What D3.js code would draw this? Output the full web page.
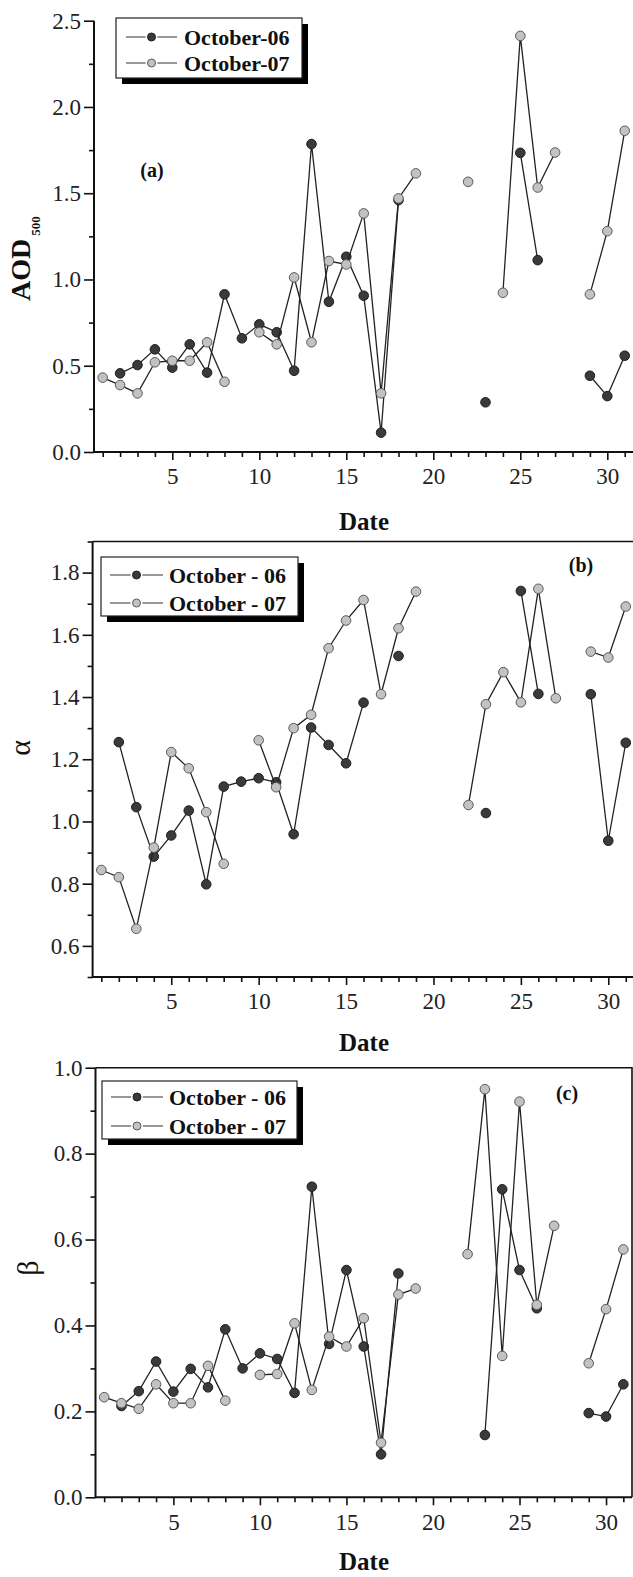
<!DOCTYPE html>
<html>
<head>
<meta charset="utf-8">
<style>
  body { margin: 0; background: #fff; }
  svg { display: block; }
  .tick text { font-family: 'Liberation Serif', 'Times New Roman', serif; }
</style>
<script src="https://cdn.jsdelivr.net/npm/d3@7"></script>
</head>
<body>
<script>

// data ////////////////////////////////////////////////////////////////////

var days = [1, 2, 3, 4, 5, 6, 7, 8, 9, 10, 11, 12, 13, 14, 15, 16, 17, 18, 19, 20,
            21, 22, 23, 24, 25, 26, 27, 28, 29, 30, 31];

var xMajor = [5, 10, 15, 20, 25, 30];

// (a) AOD500
var aod06 = [null, 0.456, 0.504, 0.595, 0.489, 0.624, 0.46, 0.914, 0.659, 0.74,
             0.694, 0.471, 1.785, 0.871, 1.132, 0.906, 0.112, 1.46, null, null,
             null, null, 0.288, null, 1.734, 1.112, null, null, 0.442, 0.324, 0.558];
var aod07 = [0.431, 0.388, 0.34, 0.52, 0.529, 0.529, 0.636, 0.407, null, 0.694,
             0.624, 1.012, 0.636, 1.107, 1.087, 1.383, 0.34, 1.47, 1.615, null,
             null, 1.566, null, 0.923, 2.412, 1.533, 1.736, null, 0.914, 1.28, 1.862];

// (b) alpha
var alpha06 = [null, 1.255, 1.046, 0.887, 0.955, 1.035, 0.798, 1.112, 1.128, 1.139,
               1.126, 0.959, 1.302, 1.246, 1.187, 1.382, null, 1.532, null, null,
               null, null, 1.027, null, 1.741, 1.41, null, null, 1.409, 0.938, 1.253];
var alpha07 = [0.844, 0.821, 0.655, 0.916, 1.223, 1.171, 1.03, 0.864, null, 1.261,
               1.11, 1.3, 1.343, 1.557, 1.646, 1.712, 1.409, 1.621, 1.739, null,
               null, 1.053, 1.377, 1.48, 1.383, 1.748, 1.396, null, 1.546, 1.527, 1.691];

// (c) beta
var beta06 = [null, 0.2125, 0.247, 0.316, 0.246, 0.299, 0.256, 0.391, 0.3, 0.335,
              0.322, 0.243, 0.723, 0.357, 0.529, 0.351, 0.1, 0.521, null, null,
              null, null, 0.145, 0.717, 0.529, 0.44, null, null, 0.196, 0.188, 0.263];
var beta07 = [0.233, 0.219, 0.206, 0.263, 0.219, 0.219, 0.306, 0.225, null, 0.285,
              0.287, 0.405, 0.25, 0.374, 0.351, 0.417, 0.127, 0.472, 0.486, null,
              null, 0.566, 0.95, 0.329, 0.921, 0.448, 0.632, null, 0.312, 0.438, 0.577];

var yTicksA = [0, 0.5, 1.0, 1.5, 2.0, 2.5];
var yMinorA = [0.25, 0.75, 1.25, 1.75, 2.25];
var yTicksB = [0.6, 0.8, 1.0, 1.2, 1.4, 1.6, 1.8];
var yMinorB = [0.5, 0.7, 0.9, 1.1, 1.3, 1.5, 1.7, 1.9];
var yTicksC = [0, 0.2, 0.4, 0.6, 0.8, 1.0];
var yMinorC = [0.1, 0.3, 0.5, 0.7, 0.9];

var legendA = ['October-06', 'October-07'];
var legendBC = ['October - 06', 'October - 07'];

// style ///////////////////////////////////////////////////////////////////

var serif = "'Liberation Serif', 'Times New Roman', serif";
var dark  = {fill: '#3a3a3a', stroke: '#1e1e1e'};
var light = {fill: '#c2c2c2', stroke: '#5a5a5a'};

var svg = d3.select('body').append('svg')
	.attr('width', 633)
	.attr('height', 1577);

var panels = [
	{s06: aod06, s07: aod07, yDomain: [0, 2.5], yTicks: yTicksA, yMinor: yMinorA,
	 xRange: [94, 633.4], yRange: [452, 20.7], frame: false,
	 legend: legendA, box: [116, 18, 186, 60], rows: [37, 63], sym: [126, 177], textX: 184,
	 tag: '(a)', tagPos: [152, 177], dateY: 530, ylabel: 'aod'},
	{s06: alpha06, s07: alpha07, yDomain: [0.5, 1.9], yTicks: yTicksB, yMinor: yMinorB,
	 xRange: [92.6, 634.5], yRange: [977, 541.5], frame: true,
	 legend: legendBC, box: [101, 557, 197, 59], rows: [575, 603], sym: [110, 163], textX: 169,
	 tag: '(b)', tagPos: [581, 572], dateY: 1051, ylabel: 'α', ylabelPos: [30, 748]},
	{s06: beta06, s07: beta07, yDomain: [0, 1.0], yTicks: yTicksC, yMinor: yMinorC,
	 xRange: [95.5, 632], yRange: [1497.3, 1067.7], frame: true,
	 legend: legendBC, box: [102, 1081, 195, 58], rows: [1097, 1126], sym: [111, 163], textX: 169,
	 tag: '(c)', tagPos: [567, 1100], dateY: 1570, ylabel: 'β', ylabelPos: [38, 1268]},
];

panels.forEach(drawPanel);

function drawPanel(p) {
	var x = d3.scaleLinear().domain([0.5, 31.5]).range(p.xRange);
	var y = d3.scaleLinear().domain(p.yDomain).range(p.yRange);
	var [x0, x1] = x.range();
	var [y0, y1] = y.range();

	var g = svg.append('g');

	// frame (top + right)
	if (p.frame) {
		g.append('path')
			.attr('d', `M${x0},${y1}H${x1}V${y0}`)
			.attr('fill', 'none')
			.attr('stroke', '#111')
			.attr('stroke-width', 1.6);
	}

	// y axis
	g.append('g')
		.attr('transform', `translate(${x0},0)`)
		.call(d3.axisLeft(y).tickValues(p.yTicks).tickSize(10).tickPadding(3)
			.tickFormat(d3.format('.1f')))
		.attr('font-family', serif).attr('font-size', 23)
		.call(a => a.select('.domain').remove())
		.call(a => a.selectAll('line').attr('stroke', '#111').attr('stroke-width', 1.6))
		.call(a => a.selectAll('text').style('font-family', serif).style('font-size', '23px')
			.attr('fill', '#222'));
	g.append('g')
		.attr('transform', `translate(${x0},0)`)
		.call(d3.axisLeft(y).tickValues(p.yMinor).tickSize(5).tickFormat(''))
		.call(a => a.select('.domain').remove())
		.call(a => a.selectAll('line').attr('stroke', '#111').attr('stroke-width', 1.6));

	// x axis
	g.append('g')
		.attr('transform', `translate(0,${y0})`)
		.call(d3.axisBottom(x).tickValues(xMajor).tickSize(8).tickPadding(8))
		.attr('font-family', serif).attr('font-size', 23)
		.call(a => a.select('.domain').remove())
		.call(a => a.selectAll('line').attr('stroke', '#111').attr('stroke-width', 1.6))
		.call(a => a.selectAll('text').style('font-family', serif).style('font-size', '23px')
			.attr('fill', '#222'));
	g.append('g')
		.attr('transform', `translate(0,${y0})`)
		.call(d3.axisBottom(x).tickValues(days.filter(d => xMajor.indexOf(d) < 0))
			.tickSize(5).tickFormat(''))
		.call(a => a.select('.domain').remove())
		.call(a => a.selectAll('line').attr('stroke', '#111').attr('stroke-width', 1.6));

	g.append('path')
		.attr('d', `M${x0},${y1}V${y0}H${x1}`)
		.attr('fill', 'none')
		.attr('stroke', '#111')
		.attr('stroke-width', 2);

	// series
	[[p.s06, dark], [p.s07, light]].forEach(([s, st]) => {
		var pts = days.map((d, i) => ({day: d, v: s[i]}));
		var line = d3.line()
			.defined(d => d.v != null)
			.x(d => x(d.day))
			.y(d => y(d.v));
		g.append('path')
			.datum(pts)
			.attr('d', line)
			.attr('fill', 'none')
			.attr('stroke', '#222')
			.attr('stroke-width', 1.3);
		g.append('g').selectAll('circle')
			.data(pts.filter(d => d.v != null))
			.join('circle')
				.attr('cx', d => x(d.day))
				.attr('cy', d => y(d.v))
				.attr('r', 4.8)
				.attr('fill', st.fill)
				.attr('stroke', st.stroke)
				.attr('stroke-width', 1);
	});

	// legend
	var [bx, by, bw, bh] = p.box;
	g.append('rect')
		.attr('x', bx + 6).attr('y', by + 6).attr('width', bw).attr('height', bh)
		.attr('fill', '#000');
	g.append('rect')
		.attr('x', bx).attr('y', by).attr('width', bw).attr('height', bh)
		.attr('fill', '#fff').attr('stroke', '#222').attr('stroke-width', 1.2);
	p.legend.forEach((name, i) => {
		var ry = p.rows[i];
		var st = i == 0 ? dark : light;
		g.append('line')
			.attr('x1', p.sym[0]).attr('x2', p.sym[1])
			.attr('y1', ry).attr('y2', ry)
			.attr('stroke', '#333').attr('stroke-width', 1.2);
		g.append('circle')
			.attr('cx', (p.sym[0] + p.sym[1]) / 2).attr('cy', ry)
			.attr('r', 6)
			.attr('fill', '#fff');
		g.append('circle')
			.attr('cx', (p.sym[0] + p.sym[1]) / 2).attr('cy', ry)
			.attr('r', 4)
			.attr('fill', st.fill).attr('stroke', st.stroke).attr('stroke-width', 1);
		g.append('text')
			.attr('x', p.textX).attr('y', ry + 8)
			.attr('font-family', serif).attr('font-weight', 'bold').attr('font-size', 22)
			.attr('fill', '#111')
			.text(name);
	});

	// panel tag
	g.append('text')
		.attr('x', p.tagPos[0]).attr('y', p.tagPos[1])
		.attr('text-anchor', 'middle')
		.attr('font-family', serif).attr('font-weight', 'bold').attr('font-size', 20)
		.attr('fill', '#111')
		.text(p.tag);

	// x label
	g.append('text')
		.attr('x', 364).attr('y', p.dateY)
		.attr('text-anchor', 'middle')
		.attr('font-family', serif).attr('font-weight', 'bold').attr('font-size', 25)
		.attr('fill', '#111')
		.text('Date');

	// y label
	if (p.ylabel == 'aod') {
		var t = g.append('text')
			.attr('transform', 'translate(30,301) rotate(-90)')
			.attr('font-family', serif).attr('font-weight', 'bold').attr('font-size', 28)
			.attr('fill', '#111');
		t.append('tspan').text('AOD');
		t.append('tspan').attr('dx', 3).attr('dy', 10).attr('font-size', 13).text('500');
	} else {
		g.append('text')
			.attr('transform', `translate(${p.ylabelPos[0]},${p.ylabelPos[1]}) rotate(-90)`)
			.attr('text-anchor', 'middle')
			.attr('font-family', serif).attr('font-size', 30)
			.attr('fill', '#111')
			.text(p.ylabel);
	}
}
</script>
</body>
</html>
